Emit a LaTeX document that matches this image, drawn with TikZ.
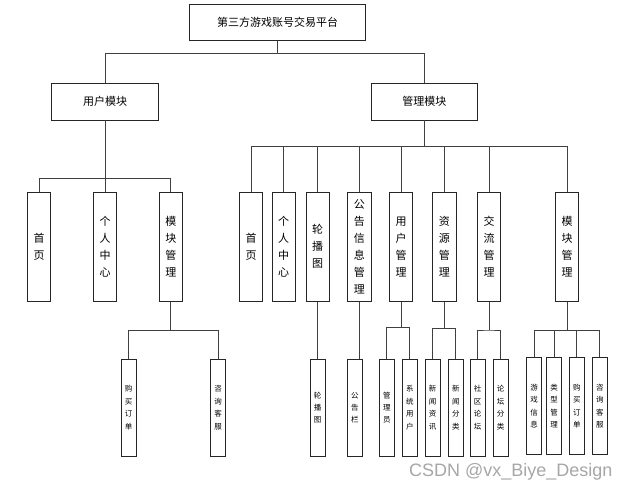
\documentclass[tikz,border=0pt]{standalone}
\usepackage{fontspec}
\newfontfamily\cjk{Noto Sans CJK SC}
\newfontfamily\wmfont{Liberation Sans}
\begin{document}
\begin{tikzpicture}[
    x=1pt, y=-1pt,
    font=\cjk,
    topbox/.style={
		rectangle,
		draw=black!85,
		line width=0.9pt,
		fill=white,
		inner sep=0pt,
		minimum width=176pt,
		minimum height=36pt,
		font=\cjk\fontsize{11}{13}\selectfont
	},
    modbox/.style={
		topbox,
		minimum width=106.5pt,
		minimum height=36.5pt
	},
    funcbox/.style={
		topbox,
		align=center,
		minimum width=23.3pt,
		minimum height=109pt,
		font=\cjk\fontsize{11}{17}\selectfont
	},
    subbox/.style={
		funcbox,
		minimum width=15pt,
		minimum height=96.7pt,
		font=\cjk\fontsize{7.5}{12.4}\selectfont
	},
    link/.style={
		draw=black!75,
		line width=0.9pt
	}
  ]
  \useasboundingbox (0,0) rectangle (627,490);

    % top of the tree
  \node [topbox] (root) at (277.5,22.3) {第三方游戏账号交易平台};
  \node [modbox] (user) at (105,101.7) {用户模块};
  \node [modbox] (admin) at (424.3,101.7) {管理模块};

    % user side
  \node [funcbox] (uhome) at (39.2,246.8) {首\\页};
  \node [funcbox] (ucenter) at (105,246.8) {个\\人\\中\\心};
  \node [funcbox] (umod) at (170.8,246.8) {模\\块\\管\\理};

  \node [subbox] (ubuy) at (128.7,407.7) {购\\买\\订\\单};
  \node [subbox] (userv) at (218,407.7) {咨\\询\\客\\服};

    % admin side
  \node [funcbox] (ahome) at (251,246.8) {首\\页};
  \node [funcbox] (acenter) at (283.7,246.8) {个\\人\\中\\心};
  \node [funcbox] (acarousel) at (317.7,246.8) {轮\\播\\图};
  \node [funcbox] (anotice) at (359.3,246.8) {公\\告\\信\\息\\管\\理};
  \node [funcbox] (auser) at (401,246.8) {用\\户\\管\\理};
  \node [funcbox] (ares) at (444.3,246.8) {资\\源\\管\\理};
  \node [funcbox] (acomm) at (489,246.8) {交\\流\\管\\理};
  \node [funcbox] (amod) at (567.2,246.8) {模\\块\\管\\理};

  \node [subbox] (carousel) at (317.5,407.7) {轮\\播\\图};
  \node [subbox] (noticebar) at (354.8,407.7) {公\\告\\栏};
  \node [subbox] (adminer) at (386.8,407.7) {管\\理\\员};
  \node [subbox] (sysuser) at (409.8,407.7) {系\\统\\用\\户};
  \node [subbox] (news) at (432.5,407.7) {新\\闻\\资\\讯};
  \node [subbox] (newscat) at (455.8,407.7) {新\\闻\\分\\类};
  \node [subbox] (forum) at (477.5,407.7) {社\\区\\论\\坛};
  \node [subbox] (forumcat) at (500.5,407.7) {论\\坛\\分\\类};
  \node [subbox] (gameinfo) at (534.2,406) {游\\戏\\信\\息};
  \node [subbox] (typemgr) at (554.2,406) {类\\型\\管\\理};
  \node [subbox] (abuy) at (576.8,406) {购\\买\\订\\单};
  \node [subbox] (aserv) at (599.8,406) {咨\\询\\客\\服};

    % connectors
  \coordinate (rootbar) at (277.5,53.5);
  \draw [link] (root.south) -- (rootbar) -| (user.north);
  \draw [link] (rootbar) -| (admin.north);

  \coordinate (ubar) at (105,178.3);
  \draw [link] (user.south) -- (ucenter.north);
  \draw [link] (uhome.north) |- (ubar) -| (umod.north);

  \coordinate (umodbar) at (170.8,330.7);
  \draw [link] (umod.south) -- (umodbar);
  \draw [link] (ubuy.north) |- (umodbar) -| (userv.north);

  \coordinate (abar) at (424.3,146.7);
  \draw [link] (admin.south) -- (abar);
  \draw [link] (ahome.north) |- (abar) -| (amod.north);
  \draw [link] (abar) -| (acenter.north);
  \draw [link] (abar) -| (acarousel.north);
  \draw [link] (abar) -| (anotice.north);
  \draw [link] (abar) -| (auser.north);
  \draw [link] (abar) -| (ares.north);
  \draw [link] (abar) -| (acomm.north);

  \draw [link] (acarousel.south) -- (acarousel.south |- carousel.north);
  \draw [link] (anotice.south) -- (anotice.south |- noticebar.north);

  \coordinate (auserbar) at (401,327.7);
  \draw [link] (auser.south) -- (auserbar);
  \draw [link] (adminer.north) |- (auserbar) -| (sysuser.north);

  \coordinate (aresbar) at (444.3,328.7);
  \draw [link] (ares.south) -- (aresbar);
  \draw [link] (news.north) |- (aresbar) -| (newscat.north);

  \coordinate (acommbar) at (489,330);
  \draw [link] (acomm.south) -- (acommbar);
  \draw [link] (forum.north) |- (acommbar) -| (forumcat.north);

  \coordinate (amodbar) at (567.2,330.7);
  \draw [link] (amod.south) -- (amodbar);
  \draw [link] (gameinfo.north) |- (amodbar) -| (aserv.north);
  \draw [link] (amodbar) -| (typemgr.north);
  \draw [link] (amodbar) -| (abuy.north);

    % watermark
  \node [anchor=base west, inner sep=0pt, text=black!35, font=\wmfont\fontsize{18}{18}\selectfont] (mark) at (409,476) {CSDN @vx\_Biye\_Design};

\end{tikzpicture}
\end{document}
